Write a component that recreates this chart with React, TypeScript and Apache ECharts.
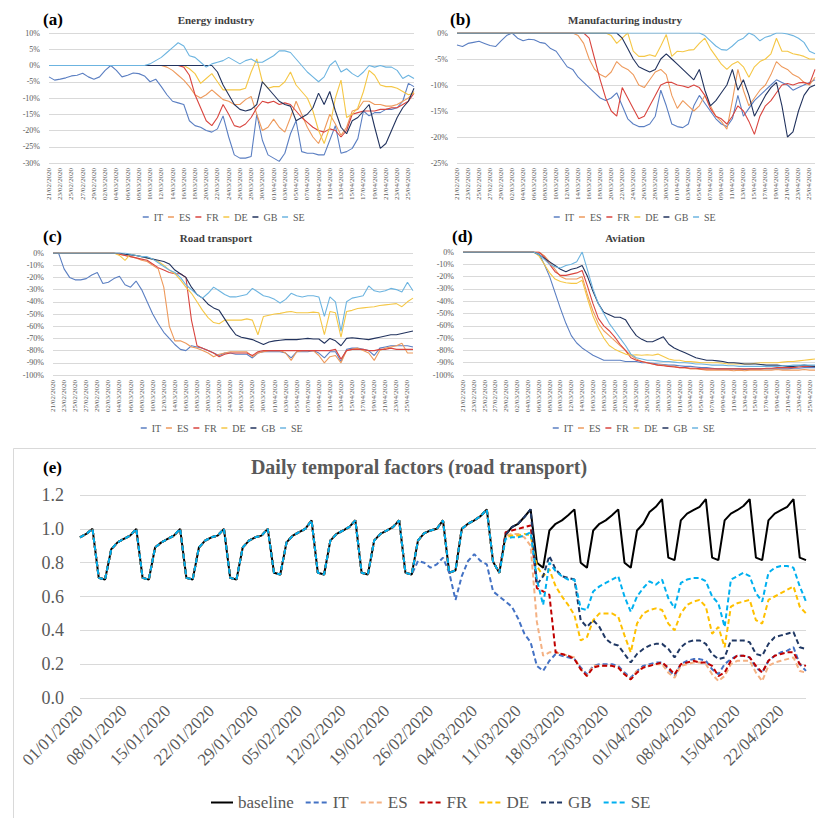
import React, { useEffect, useRef } from "react";
import * as echarts from "echarts";

const SERIF = "'Liberation Serif', 'Times New Roman', serif";
const COUNTRIES = ["IT", "ES", "FR", "DE", "GB", "SE"];

// ---------- category helpers (dates) ----------
function makeDates(y: number, m: number, d: number, n: number): string[] {
  const out: string[] = [];
  const pad = (v: number) => (v < 10 ? "0" + v : "" + v);
  for (let i = 0; i < n; i++) {
    const dt = new Date(Date.UTC(y, m, d + i));
    out.push(pad(dt.getUTCDate()) + "/" + pad(dt.getUTCMonth() + 1) + "/" + dt.getUTCFullYear());
  }
  return out;
}
const smallDates = makeDates(2020, 1, 21, 66); // 21/02/2020 .. 26/04/2020
const dailyDates = makeDates(2020, 0, 1, 117); // 01/01/2020 .. 26/04/2020

// ---------- (a) Energy industry, % change ----------
const energyIT = [
  -3.5, -4.5, -4.2, -3.8, -3.2, -3, -2.4, -3.5, -4.2, -3.5,
  -1.5, 0, -1.5, -3.5, -3, -2.3, -2.5, -3.2, -5, -4.2,
  -6.5, -9, -11, -11.5, -12, -17, -18.5, -19, -20, -20.5,
  -19.5, -15.5, -22, -27.5, -28.5, -28.5, -28, -15, -23, -27.5,
  -28.5, -29.5, -27, -21, -17, -26.5, -27, -27, -27.5, -27.5,
  -23, -18.5, -27, -26.5, -25.5, -22.5, -14, -15.5, -14.5, -14.5,
  -13.5, -13.5, -13, -11, -5.5, -6.5,
];
const energyES = [
  0, 0, 0, 0, 0, 0, 0, 0, 0, 0,
  0, 0, 0, 0, 0, 0, 0, 0, 0, 0,
  0, -0.5, -1.5, -3, -4.5, -6.5, -9, -10, -9, -7.5,
  -9, -10.5, -11, -12, -12, -10.5, -9.5, -15, -20, -19,
  -16.5, -19, -20.5, -16, -11, -15, -19, -22, -24, -20,
  -15, -18, -21.5, -19, -14, -13.5, -11, -11, -12, -12,
  -12.5, -12.5, -12, -11, -10, -8,
];
const energyFR = [
  0, 0, 0, 0, 0, 0, 0, 0, 0, 0,
  0, 0, 0, 0, 0, 0, 0, 0, 0, 0,
  0, 0, 0, 0, -0.5, -3, -9, -13, -17, -18.5,
  -16, -12, -15, -18.5, -19, -18, -16, -13, -11, -11.5,
  -11, -12, -11.5, -12, -14, -16, -17.5, -19, -20, -20.5,
  -19.5, -20, -22, -20, -15, -14.5, -14, -14, -14, -13.5,
  -13.5, -13, -13, -12, -11, -8.5,
];
const energyDE = [
  0, 0, 0, 0, 0, 0, 0, 0, 0, 0,
  0, 0, 0, 0, 0, 0, 0, 0, 0, 0,
  0, 0, 0, 0, 0, -1, -2.5, -5.5, -4, -2.5,
  -5, -7.5, -7.5, -7.5, -7.5, -7, -2, 2, -5, -7,
  -6.5, -6.5, -5, -2, -6, -8, -10, -14, -20, -24,
  -19, -10, -4.5, -16, -15, -13, -8, -1.5, -3, -6,
  -6.5, -6.5, -7, -8, -9, -8.5,
];
const energyGB = [
  0, 0, 0, 0, 0, 0, 0, 0, 0, 0,
  0, 0, 0, 0, 0, 0, 0, 0, 0, 0,
  0, 0, 0, 0, 0, 0, 0, 0, 0, 0,
  -2, -6, -9, -12, -13.5, -14, -13.5, -12, -5, -7,
  -9, -11, -12, -12.5, -17, -16, -15, -13, -8.5, -12,
  -8, -14, -19, -21, -17, -16, -14, -12, -19, -25.5,
  -24, -20, -16, -13, -11, -7,
];
const energySE = [
  0, 0, 0, 0, 0, 0, 0, 0, 0, 0,
  0, 0, 0, 0, 0, 0, 0, 0, 0.5, 1.5,
  2.5, 4, 5.5, 7, 6, 3, 2.5, 1, -0.5, 0.5,
  1, 1.5, 2.5, 1.5, 0.5, 1.5, 2, 1, 1, 2,
  3, 4.5, 4.5, 4, 2, 0, -2, -3.5, -5, -3.5,
  0, 1.5, -2, -1, -2.5, -3.5, -2, 0, -0.5, 0,
  -0.5, -0.5, -1.5, -4, -3, -4,
];

// ---------- (b) Manufacturing industry, % change ----------
const manuIT = [
  -2.3, -2.6, -2, -1.8, -1.6, -2, -2.4, -2.6, -1.5, -0.5,
  0, -1, -1.5, -1.2, -1.3, -1.8, -2, -3, -3.5, -5,
  -6.5, -7, -8.5, -9.5, -10.5, -11.5, -12.5, -13, -12.5, -11.5,
  -14, -16.5, -17.5, -18, -18, -17.5, -16, -11, -14, -17.5,
  -18, -18.2, -17.5, -14, -12, -13.5, -15, -16.5, -17.5, -18,
  -16.5, -12, -16, -14.5, -13, -12, -11, -10, -9, -9.5,
  -10, -11, -10.5, -10, -9.5, -9,
];
const manuES = [
  0, 0, 0, 0, 0, 0, 0, 0, 0, 0,
  0, 0, 0, 0, 0, 0, 0, 0, 0, 0,
  0, 0, -0.5, -2, -5, -7, -8, -8.5, -7.5, -5.5,
  -6.5, -7, -8, -10, -10.5, -9, -7.5, -7, -8, -12,
  -14.5, -13, -14, -15, -14, -12, -14, -16, -17, -18.5,
  -13, -7, -11, -14, -12.5, -11, -10, -8, -5.5, -6.5,
  -7, -8, -8.5, -9.5, -10, -8.5,
];
const manuFR = [
  0, 0, 0, 0, 0, 0, 0, 0, 0, 0,
  0, 0, 0, 0, 0, 0, 0, 0, 0, 0,
  0, 0, 0, 0, -1, -5, -9, -12.5, -15, -16,
  -10.5, -12.5, -14.5, -16.5, -16, -14, -12, -10, -9.5, -9.5,
  -10, -10.2, -10.5, -10, -10.5, -12, -14.5, -16, -16.5, -17.5,
  -16, -14, -15, -17, -19.5, -16, -14, -13, -11.5, -10,
  -9.7, -10, -9.6, -9.5, -9.8, -7,
];
const manuDE = [
  0, 0, 0, 0, 0, 0, 0, 0, 0, 0,
  0, 0, 0, 0, 0, 0, 0, 0, 0, 0,
  0, 0, 0, 0, 0, 0, 0, 0, -0.5, -2,
  -1, 0, -3.5, -4.5, -4.5, -4.2, -4.5, -2.5, -0.3, -4.5,
  -3.5, -3.6, -3.3, -3.2, -2, -1, -3, -4.5, -6, -7,
  -6, -5.5, -6.5, -8.5, -6.5, -5.5, -5, -4, -1, -3.5,
  -3.5, -4, -4.2, -4.5, -5, -5,
];
const manuGB = [
  0, 0, 0, 0, 0, 0, 0, 0, 0, 0,
  0, 0, 0, 0, 0, 0, 0, 0, 0, 0,
  0, 0, 0, 0, 0, 0, 0, 0, 0, 0,
  -1, -3, -5, -6.5, -7, -7.5, -7, -5, -4, -5,
  -6, -7, -8, -9, -7, -11, -14, -13, -11.5, -10,
  -7, -11, -9, -12, -16, -14, -12, -10.5, -9.5, -14,
  -20, -19, -15, -12, -10.5, -10,
];
const manuSE = [
  0, 0, 0, 0, 0, 0, 0, 0, 0, 0,
  0, 0, 0, 0, 0, 0, 0, 0, 0, 0,
  0, 0, 0, 0, 0, 0, 0, 0, 0, 0,
  0, 0, 0, 0, 0, 0, 0, 0, 0, 0,
  0, 0, 0, 0, 0, -0.5, -1.5, -2.5, -3.2, -3.3,
  -2.5, -1.5, -1, 0, -0.5, -1.5, -0.8, -0.5, 0, 0,
  -0.2, -0.5, -1, -1.8, -3.5, -4,
];

// ---------- (c) Road transport, % change ----------
const roadIT = [
  0, 0, -13, -20, -22, -22, -21, -18, -16, -25,
  -24, -21, -19, -26, -28, -23, -30, -40, -50, -58,
  -65, -70, -75, -79, -80, -76, -77, -78, -80, -82,
  -84, -82, -82, -83, -83, -83, -86, -82, -81, -81,
  -81, -81, -82, -86, -81, -81, -81, -80, -82, -86,
  -81, -81, -89, -79, -78, -78, -79, -80, -84, -78,
  -77, -76, -76, -76, -76, -77,
];
const roadES = [
  0, 0, 0, 0, 0, 0, 0, 0, 0, 0,
  0, 0, -1, -2, -3, -4, -6, -7, -10, -13,
  -28, -60, -72, -72, -74, -77, -78, -80, -82, -85,
  -83, -82, -81, -81, -81, -81, -85, -82, -81, -80,
  -80, -80, -82, -88, -81, -80, -80, -80, -84, -90,
  -85, -84, -90, -80, -79, -78, -80, -82, -88, -80,
  -78, -77, -76, -74, -82, -82,
];
const roadFR = [
  0, 0, 0, 0, 0, 0, 0, 0, 0, 0,
  0, 0, -1, -2, -3, -4, -5, -6, -9, -12,
  -14, -16, -17, -17, -20, -55, -76, -78, -80, -82,
  -85, -83, -82, -82, -82, -82, -84, -81, -80, -80,
  -80, -80, -80, -80, -80, -80, -80, -80, -80, -80,
  -80, -79, -87, -80, -79, -79, -79, -80, -80, -79,
  -79, -78, -79, -79, -79, -79,
];
const roadDE = [
  0, 0, 0, 0, 0, 0, 0, 0, 0, 0,
  0, 0, -2, -6, -1, -2, -3, -4, -5, -7,
  -10, -14, -17, -22, -28, -33, -40, -47, -53, -57,
  -58, -55, -55, -55, -55, -54, -55, -67, -52, -51,
  -50, -49.5, -48.5, -48, -49, -49, -49, -48.5, -49, -67,
  -48, -49, -69, -48, -47, -45.5, -45, -44.5, -44, -43,
  -42.5, -42, -41.5, -44, -40, -37,
];
const roadGB = [
  0, 0, 0, 0, 0, 0, 0, 0, 0, 0,
  0, 0, 0, -1, -1.5, -2, -3, -4, -5, -6,
  -7, -9, -14, -17, -20, -28, -34, -37, -42, -45,
  -47, -54, -61, -67, -69, -70, -71, -73, -75, -73,
  -72, -71.5, -71, -71, -71, -70.5, -70, -70.5, -70.5, -74,
  -70, -72, -76, -70, -69.5, -70, -70.5, -71, -70, -69,
  -68, -67, -67, -66, -65, -64,
];
const roadSE = [
  0, 0, 0, 0, 0, 0, 0, 0, 0, 0,
  0, 0, 0, 0, -1, -2, -3, -3, -5, -8,
  -11, -14, -16, -20, -26, -30, -34, -37, -33, -28,
  -31, -34, -36, -36, -35, -34, -29, -32, -35, -36,
  -38, -41, -38, -33, -35, -36, -35, -35, -36, -52,
  -36, -40, -64, -40, -37, -36, -35, -27, -31, -32,
  -31, -29, -30, -32, -24, -31,
];

// ---------- (d) Aviation, % change ----------
const aviIT = [
  0, 0, 0, 0, 0, 0, 0, 0, 0, 0,
  0, 0, 0, 0, -1, -10, -20, -33, -46, -58,
  -68, -74, -78, -81, -84, -86, -88, -88, -88, -88,
  -89, -89, -89, -90, -90, -90.5, -91, -91.5, -92, -92,
  -92.5, -93, -93, -93.5, -94, -94, -94.5, -95, -95, -95,
  -95, -95, -95.5, -95, -95, -95, -95, -95, -95, -95,
  -95, -94.5, -94.5, -94, -94, -94,
];
const aviES = [
  0, 0, 0, 0, 0, 0, 0, 0, 0, 0,
  0, 0, 0, 0, 0, -3, -8, -14, -20, -22,
  -22, -22, -20, -35, -48, -58, -64, -68, -72, -76,
  -80, -84, -87, -89, -90, -91, -92, -92, -93, -93,
  -94, -94, -95, -95, -95.5, -96, -96, -96, -96, -96,
  -96.5, -96, -96.5, -96, -96, -96, -96, -96, -95.5, -96,
  -96, -96, -96, -95.5, -96, -96,
];
const aviFR = [
  0, 0, 0, 0, 0, 0, 0, 0, 0, 0,
  0, 0, 0, 0, 0, -4, -10, -16, -19, -19,
  -18, -17, -15, -28, -42, -54, -60, -64, -69, -75,
  -80, -86, -88, -89, -90, -91, -92, -92.5, -93, -93.5,
  -94, -94, -94.5, -94.5, -95, -95, -95, -95, -95, -95,
  -95, -95, -95, -95, -95, -95, -94.5, -94.5, -94, -94,
  -94, -94, -93.5, -93, -93, -93,
];
const aviDE = [
  0, 0, 0, 0, 0, 0, 0, 0, 0, 0,
  0, 0, 0, 0, -3, -10, -17, -22, -24, -25,
  -25.5, -25.5, -23, -38, -52, -62, -70, -76, -79, -81,
  -83, -84, -83.5, -84, -83.5, -84, -83, -85, -87, -88,
  -88, -89, -89, -89.5, -90, -90, -90, -90, -90.5, -91,
  -91, -91, -91, -91, -90.5, -90, -90, -90, -90, -89.5,
  -89, -89, -88.5, -88, -87.5, -87,
];
const aviGB = [
  0, 0, 0, 0, 0, 0, 0, 0, 0, 0,
  0, 0, 0, 0, -2, -5, -8, -11, -14, -16,
  -14, -13, -11, -20, -32, -42, -49, -51, -53, -53,
  -55, -62, -68, -71, -73, -73, -71, -69, -75, -78,
  -80, -82, -84, -86, -87, -88, -88, -88.5, -89, -90,
  -90, -90.5, -91, -91, -91, -91.5, -92, -92, -92, -92.5,
  -93, -93, -92.5, -92, -92.5, -93,
];
const aviSE = [
  0, 0, 0, 0, 0, 0, 0, 0, 0, 0,
  0, 0, 0, 0, -2, -6, -10, -12, -13, -11,
  -10, -8, 0, -15, -30, -42, -50, -58, -64, -70,
  -76, -83, -86, -87, -88, -88, -88.5, -89, -89, -89.5,
  -90, -90, -90.5, -91, -91, -91.5, -92, -92, -92, -92.5,
  -92.5, -93, -93, -93, -93, -93, -93, -93, -93, -92.5,
  -92.5, -92, -92, -92, -92, -92,
];

// ---------- (e) Daily temporal factors (road transport) ----------
const baseline = [
  0.95, 0.97, 1.0, 0.71, 0.7, 0.88, 0.92, 0.94, 0.96, 1.0,
  0.71, 0.7, 0.89, 0.92, 0.94, 0.96, 1.0, 0.71, 0.7, 0.89,
  0.93, 0.95, 0.96, 1.0, 0.71, 0.7, 0.89, 0.93, 0.95, 0.96,
  1.0, 0.74, 0.73, 0.92, 0.96, 0.98, 1.0, 1.05, 0.74, 0.73,
  0.93, 0.97, 0.99, 1.01, 1.05, 0.74, 0.73, 0.93, 0.97, 0.99,
  1.01, 1.05, 0.74, 0.73, 0.93, 0.975, 0.99, 1.0, 1.05, 0.74,
  0.755, 1.0, 1.03, 1.05, 1.075, 1.115, 0.805, 0.74, 0.965, 1.01,
  1.03, 1.07, 1.115, 0.8, 0.77, 0.99, 1.03, 1.05, 1.08, 1.115,
  0.8, 0.77, 0.99, 1.03, 1.05, 1.08, 1.115, 0.8, 0.77, 0.99,
  1.03, 1.1, 1.13, 1.175, 0.83, 0.815, 1.05, 1.09, 1.11, 1.13,
  1.175, 0.83, 0.815, 1.05, 1.09, 1.11, 1.135, 1.175, 0.83, 0.815,
  1.05, 1.09, 1.11, 1.13, 1.175, 0.83, 0.815,
];
// Each country coincides with the baseline until it departs from it;
const dailyITFrom = 54;
const dailyITTail = [
  0.81, 0.8, 0.77, 0.79, 0.83, 0.74, 0.58, 0.72, 0.81, 0.85,
  0.81, 0.79, 0.63, 0.6, 0.57, 0.54, 0.47, 0.38, 0.33, 0.19,
  0.16, 0.22, 0.26, 0.25, 0.24, 0.23, 0.18, 0.14, 0.19, 0.2,
  0.2, 0.2, 0.19, 0.15, 0.12, 0.16, 0.19, 0.2, 0.21, 0.21,
  0.17, 0.13, 0.2, 0.22, 0.23, 0.23, 0.22, 0.17, 0.14, 0.2,
  0.23, 0.25, 0.25, 0.24, 0.18, 0.15, 0.22, 0.25, 0.27, 0.28,
  0.3, 0.2, 0.16,
];
const dailyESFrom = 68;
const dailyESTail = [
  0.96, 0.97, 0.97, 0.95, 0.9, 0.45, 0.25, 0.27, 0.27, 0.26,
  0.25, 0.24, 0.17, 0.13, 0.19, 0.19, 0.19, 0.19, 0.18, 0.14,
  0.11, 0.16, 0.18, 0.19, 0.2, 0.2, 0.15, 0.12, 0.19, 0.2,
  0.21, 0.21, 0.2, 0.14, 0.1, 0.13, 0.2, 0.22, 0.22, 0.22,
  0.15, 0.1, 0.19, 0.21, 0.22, 0.23, 0.24, 0.16, 0.15,
];
const dailyFRFrom = 68;
const dailyFRTail = [
  0.98, 0.99, 1.0, 1.01, 1.02, 0.65, 0.63, 0.61, 0.27, 0.26,
  0.25, 0.23, 0.17, 0.13, 0.18, 0.19, 0.19, 0.19, 0.18, 0.14,
  0.11, 0.15, 0.18, 0.19, 0.2, 0.21, 0.18, 0.14, 0.2, 0.21,
  0.22, 0.21, 0.21, 0.19, 0.13, 0.15, 0.22, 0.25, 0.25, 0.24,
  0.19, 0.15, 0.22, 0.25, 0.26, 0.27, 0.27, 0.2, 0.19,
];
const dailyDEFrom = 68;
const dailyDETail = [
  0.95, 0.96, 0.96, 0.97, 0.96, 0.78, 0.72, 0.76, 0.66, 0.6,
  0.55, 0.49, 0.34, 0.36, 0.46, 0.5, 0.5, 0.5, 0.48, 0.37,
  0.27, 0.44, 0.5, 0.52, 0.53, 0.52, 0.44, 0.4, 0.5, 0.55,
  0.57, 0.58, 0.54, 0.38, 0.42, 0.3, 0.54, 0.56, 0.57, 0.58,
  0.46, 0.44, 0.58, 0.6, 0.62, 0.64, 0.66, 0.54, 0.5,
];
const dailyGBFrom = 73;
const dailyGBTail = [
  0.67, 0.72, 0.84, 0.76, 0.72, 0.71, 0.7, 0.46, 0.42, 0.46,
  0.42, 0.35, 0.32, 0.31, 0.26, 0.21, 0.26, 0.29, 0.31, 0.32,
  0.32, 0.29, 0.24, 0.3, 0.33, 0.34, 0.34, 0.32, 0.26, 0.23,
  0.24, 0.34, 0.34, 0.34, 0.33, 0.26, 0.25, 0.32, 0.36, 0.37,
  0.38, 0.39, 0.3, 0.29,
];
const dailySEFrom = 68;
const dailySETail = [
  0.94, 0.95, 0.95, 0.96, 0.98, 0.7, 0.55, 0.8, 0.75, 0.72,
  0.7, 0.7, 0.53, 0.52, 0.63, 0.66, 0.68, 0.7, 0.72, 0.6,
  0.51, 0.6, 0.65, 0.69, 0.67, 0.7, 0.59, 0.53, 0.68, 0.7,
  0.71, 0.71, 0.69, 0.6, 0.56, 0.42, 0.7, 0.72, 0.74, 0.72,
  0.62, 0.57, 0.74, 0.77, 0.78, 0.78, 0.77, 0.66, 0.57,
];

// ---------- styling ----------
const SMALL_COLORS: Record<string, string> = {
  IT: "#5B7FC2",
  ES: "#EE9A5C",
  FR: "#D9453F",
  DE: "#F5C746",
  GB: "#22335E",
  SE: "#6CB4E0",
};
const DAILY_COLORS: Record<string, string> = {
  baseline: "#000000",
  IT: "#4472C4",
  ES: "#F4B183",
  FR: "#C00000",
  DE: "#FFC000",
  GB: "#203864",
  SE: "#00B0F0",
};

function buildOption() {
  const panels = [
    {
      tag: "(a)", title: "Energy industry",
      data: { IT: energyIT, ES: energyES, FR: energyFR, DE: energyDE, GB: energyGB, SE: energySE },
      min: -30, max: 10, interval: 5,
      grid: { left: 49, top: 33, width: 365, height: 130 },
      legend: { left: 137, top: 207 }, titleX: 216, titleY: 20, tagX: 43, tagY: 19,
    },
    {
      tag: "(b)", title: "Manufacturing industry",
      data: { IT: manuIT, ES: manuES, FR: manuFR, DE: manuDE, GB: manuGB, SE: manuSE },
      min: -25, max: 0, interval: 5,
      grid: { left: 457, top: 33, width: 358, height: 130 },
      legend: { left: 548, top: 207 }, titleX: 625, titleY: 20, tagX: 450, tagY: 19,
    },
    {
      tag: "(c)", title: "Road transport",
      data: { IT: roadIT, ES: roadES, FR: roadFR, DE: roadDE, GB: roadGB, SE: roadSE },
      min: -100, max: 0, interval: 10,
      grid: { left: 53, top: 253, width: 360, height: 122 },
      legend: { left: 135, top: 418 }, titleX: 216, titleY: 238, tagX: 43, tagY: 236,
    },
    {
      tag: "(d)", title: "Aviation",
      data: { IT: aviIT, ES: aviES, FR: aviFR, DE: aviDE, GB: aviGB, SE: aviSE },
      min: -100, max: 0, interval: 10,
      grid: { left: 463, top: 252, width: 352, height: 123 },
      legend: { left: 547, top: 418 }, titleX: 625, titleY: 238, tagX: 452, tagY: 236,
    },
  ];

  const grids: any[] = [];
  const xAxes: any[] = [];
  const yAxes: any[] = [];
  const series: any[] = [];
  const legends: any[] = [];
  const graphics: any[] = [];

  panels.forEach((p, i) => {
    grids.push({ ...p.grid, containLabel: false });
    xAxes.push({
      type: "category", gridIndex: i, data: smallDates, boundaryGap: false,
      axisLine: { show: false }, axisTick: { show: false },
      axisLabel: { interval: 1, rotate: 90, fontSize: 7, color: "#595959", fontFamily: SERIF, margin: 5 },
    });
    yAxes.push({
      type: "value", gridIndex: i, min: p.min, max: p.max, interval: p.interval,
      axisLine: { show: false }, axisTick: { show: false },
      axisLabel: { formatter: (v: number) => v + "%", fontSize: 8, color: "#595959", fontFamily: SERIF, margin: 9 },
      splitLine: { lineStyle: { color: "#D9D9D9", width: 1 } },
    });
    COUNTRIES.forEach((c) => {
      series.push({
        type: "line", name: c, xAxisIndex: i, yAxisIndex: i,
        data: (p.data as any)[c], symbol: "none", silent: true,
        lineStyle: { color: SMALL_COLORS[c], width: 1.1 }, itemStyle: { color: SMALL_COLORS[c] },
      });
    });
    legends.push({
      data: COUNTRIES, left: p.legend.left, top: p.legend.top, itemWidth: 6, itemHeight: 6,
      itemGap: 4, itemStyle: { opacity: 0 }, lineStyle: { width: 1.5 },
      textStyle: { fontFamily: SERIF, fontSize: 10, color: "#595959" },
    });
    graphics.push({
      type: "text", x: p.tagX, y: p.tagY,
      style: { text: p.tag, fontSize: 17, fontWeight: "bold", fontFamily: SERIF, fill: "#000", verticalAlign: "middle" },
    });
    graphics.push({
      type: "text", x: p.titleX, y: p.titleY,
      style: { text: p.title, align: "center", verticalAlign: "middle", fontSize: 11, fontWeight: "bold", fontFamily: SERIF, fill: "#404040" },
    });
  });

  // panel (e)
  const eIdx = panels.length;
  grids.push({ left: 80, top: 495, width: 726, height: 203 });
  xAxes.push({
    type: "category", gridIndex: eIdx, data: dailyDates, boundaryGap: false,
    axisLine: { show: false }, axisTick: { show: false },
    axisLabel: { interval: 6, rotate: 45, fontSize: 17, color: "#595959", fontFamily: SERIF, margin: 10 },
  });
  yAxes.push({
    type: "value", gridIndex: eIdx, min: 0, max: 1.2, interval: 0.2,
    axisLine: { show: false }, axisTick: { show: false },
    axisLabel: { formatter: (v: number) => v.toFixed(1), fontSize: 18, color: "#595959", fontFamily: SERIF, margin: 16 },
    splitLine: { lineStyle: { color: "#D9D9D9", width: 1 } },
  });

  const dailySeries: [string, number[]][] = [
    ["baseline", baseline],
    ["IT", baseline.slice(0, dailyITFrom).concat(dailyITTail)],
    ["ES", baseline.slice(0, dailyESFrom).concat(dailyESTail)],
    ["FR", baseline.slice(0, dailyFRFrom).concat(dailyFRTail)],
    ["DE", baseline.slice(0, dailyDEFrom).concat(dailyDETail)],
    ["GB", baseline.slice(0, dailyGBFrom).concat(dailyGBTail)],
    ["SE", baseline.slice(0, dailySEFrom).concat(dailySETail)],
  ];
  dailySeries.forEach(([name, data]) => {
    const isBase = name === "baseline";
    series.push({
      type: "line", name: "e:" + name, xAxisIndex: eIdx, yAxisIndex: eIdx,
      data, symbol: "none", silent: true,
      lineStyle: { color: DAILY_COLORS[name], width: 2, type: isBase ? "solid" : [5, 3] },
      itemStyle: { color: DAILY_COLORS[name] },
    });
  });
  legends.push({
    data: dailySeries.map(([n]) => "e:" + n),
    formatter: (n: string) => n.slice(2),
    left: 205, top: 789, itemWidth: 22, itemHeight: 10, itemGap: 11,
    itemStyle: { opacity: 0 },
    textStyle: { fontFamily: SERIF, fontSize: 17, color: "#595959" },
  });

  graphics.push({
    type: "rect", shape: { x: 13.5, y: 448.5, width: 900, height: 500 },
    style: { fill: "none", stroke: "#D9D9D9", lineWidth: 1 }, silent: true,
  });
  graphics.push({
    type: "text", x: 43, y: 467,
    style: { text: "(e)", fontSize: 17, fontWeight: "bold", fontFamily: SERIF, fill: "#000", verticalAlign: "middle" },
  });
  graphics.push({
    type: "text", x: 419, y: 467,
    style: {
      text: "Daily temporal factors (road transport)", align: "center", verticalAlign: "middle",
      fontSize: 20, fontWeight: "bold", fontFamily: SERIF, fill: "#595959",
    },
  });

  return {
    animation: false,
    backgroundColor: "#ffffff",
    textStyle: { fontFamily: SERIF },
    grid: grids,
    xAxis: xAxes,
    yAxis: yAxes,
    legend: legends,
    series,
    graphic: graphics,
  };
}

export default function App() {
  const ref = useRef<HTMLDivElement>(null);
  useEffect(() => {
    if (!ref.current) return;
    const chart = echarts.init(ref.current, null, { renderer: "svg" });
    chart.setOption(buildOption() as any);
    return () => chart.dispose();
  }, []);
  return (
    <div
      ref={ref}
      style={{ position: "absolute", left: 0, top: 0, width: 816, height: 818, background: "#fff" }}
    />
  );
}
